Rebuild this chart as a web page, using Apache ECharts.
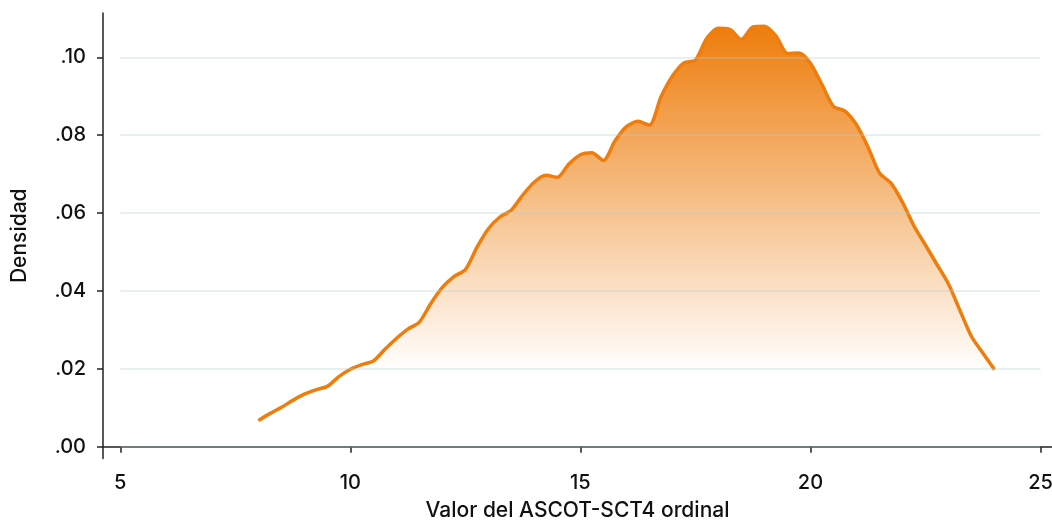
<!DOCTYPE html>
<html>
<head>
<meta charset="utf-8">
<script src="https://cdn.jsdelivr.net/npm/echarts@6/dist/echarts.min.js"></script>
<style>
  html, body { margin: 0; padding: 0; background: #fff; }
  #chart { width: 1052px; height: 522px; }
</style>
</head>
<body>
<div id="chart"></div>
<script>
// valores de la curva de densidad
var xValues = [8.0, 8.25, 8.5, 8.75, 9.0, 9.25, 9.5, 9.75, 10.0, 10.25, 10.5, 10.75,
  11.0, 11.25, 11.5, 11.75, 12.0, 12.25, 12.5, 12.75, 13.0, 13.25, 13.5, 13.75,
  14.0, 14.25, 14.5, 14.75, 15.0, 15.25, 15.5, 15.75, 16.0, 16.25, 16.5, 16.75,
  17.0, 17.25, 17.5, 17.75, 18.0, 18.25, 18.5, 18.75, 19.0, 19.25, 19.5, 19.75,
  20.0, 20.25, 20.5, 20.75, 21.0, 21.25, 21.5, 21.75, 22.0, 22.25, 22.5, 22.75,
  23.0, 23.25, 23.5, 23.75, 24.0];
var density = [0.0067, 0.0085, 0.0101, 0.0119, 0.0135, 0.0146, 0.0155, 0.0180, 0.0199, 0.0211, 0.0220, 0.0250,
  0.0278, 0.0302, 0.0320, 0.0368, 0.0409, 0.0437, 0.0455, 0.0512, 0.0560, 0.0590, 0.0608, 0.0647,
  0.0680, 0.0697, 0.0692, 0.0726, 0.0750, 0.0755, 0.0735, 0.0785, 0.0822, 0.0836, 0.0826, 0.0898,
  0.0952, 0.0986, 0.0993, 0.1050, 0.1075, 0.1072, 0.1046, 0.1078, 0.1080, 0.1055, 0.1010, 0.1011,
  0.0985, 0.0930, 0.0874, 0.0862, 0.0827, 0.0770, 0.0703, 0.0677, 0.0628, 0.0567, 0.0518, 0.0468,
  0.0418, 0.0350, 0.0283, 0.0240, 0.0198];
// marcas de los ejes
var xTicks = [5, 10, 15, 20, 25];
var yTicks = [0, 0.02, 0.04, 0.06, 0.08, 0.10];

var orange = '#ee7d0c';
var font = 'Inter, "Noto Sans", sans-serif';

var curve = [];
xValues.forEach(function(x, i) {
  curve.push([x, density[i]]);
});

// líneas de cuadrícula entre 5 y 25, por encima del área
var gridLines = [];
yTicks.forEach(function(v) {
  gridLines.push([{ coord: [xTicks[0], v] }, { coord: [xTicks[xTicks.length - 1], v] }]);
});

var chart = echarts.init(document.getElementById('chart'));
chart.setOption({
  animation: false,
  textStyle: { fontFamily: font },
  grid: { left: 103, right: 0, top: 13, bottom: 63.5, outerBoundsMode: 'none', containLabel: false },
  xAxis: {
    type: 'value',
    min: 4.624,
    max: 25.25,
    name: 'Valor del ASCOT-SCT4 ordinal',
    nameLocation: 'middle',
    nameGap: 42,
    nameTextStyle: { fontSize: 21, fontWeight: 500, color: '#111', fontFamily: font },
    axisLine: { show: true, lineStyle: { color: '#222', width: 1.5 } },
    axisTick: { show: true, length: 6, customValues: xTicks, lineStyle: { color: '#222', width: 1.5 } },
    axisLabel: { customValues: xTicks, fontSize: 20, fontWeight: 500, color: '#111', margin: 14, fontFamily: font },
    splitLine: { show: false }
  },
  yAxis: {
    type: 'value',
    min: -0.00303,
    max: 0.1114,
    name: 'Densidad',
    nameLocation: 'middle',
    nameGap: 73,
    nameTextStyle: { fontSize: 21, fontWeight: 500, color: '#111', fontFamily: font },
    axisLine: { show: true, lineStyle: { color: '#222', width: 1.5 } },
    axisTick: { show: true, length: 6, customValues: yTicks, lineStyle: { color: '#222', width: 1.5 } },
    axisLabel: {
      customValues: yTicks,
      fontSize: 20,
      fontWeight: 500,
      color: '#111',
      margin: 17,
      fontFamily: font,
      formatter: function(v) {
        return v.toFixed(2).replace(/^0/, '');
      }
    },
    splitLine: { show: false }
  },
  series: [{
    type: 'line',
    data: curve,
    smooth: 0.25,
    showSymbol: false,
    lineStyle: { color: orange, width: 3.5 },
    areaStyle: {
      opacity: 1,
      color: new echarts.graphic.LinearGradient(0, 0, 0, 1, [
        { offset: 0, color: 'rgba(238,125,12,1)' },
        { offset: 0.82, color: 'rgba(238,125,12,0)' },
        { offset: 1, color: 'rgba(238,125,12,0)' }
      ])
    },
    markLine: {
      silent: true,
      symbol: 'none',
      label: { show: false },
      lineStyle: { color: 'rgba(175,205,210,0.3)', width: 2, type: 'solid' },
      data: gridLines
    }
  }]
});
</script>
</body>
</html>
